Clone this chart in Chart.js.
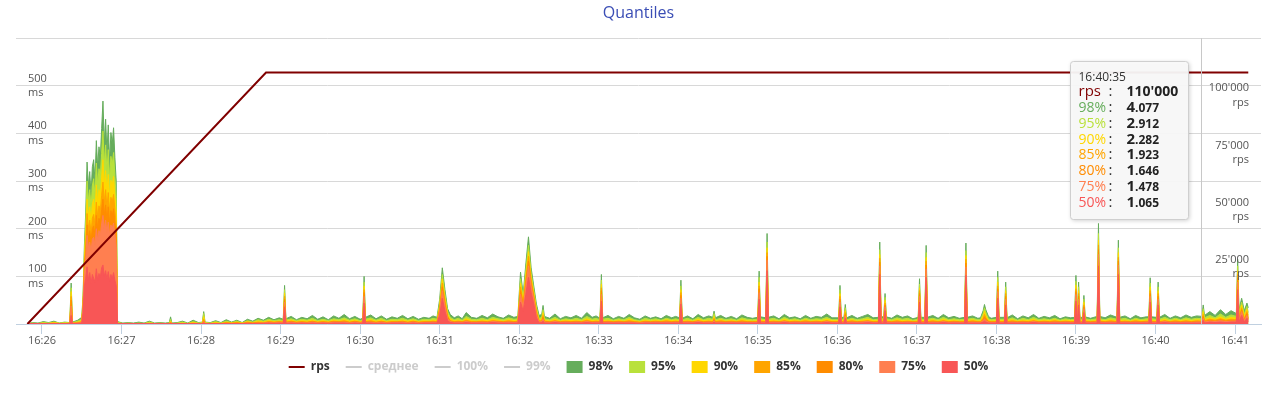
<!DOCTYPE html>
<html>
<head>
<meta charset="utf-8">
<title>Quantiles</title>
<script src="https://cdn.jsdelivr.net/npm/chart.js@4.4.1/dist/chart.umd.min.js"></script>
<style>
  html, body { margin: 0; padding: 0; background: #fff; }
</style>
</head>
<body>
<canvas id="quantiles" width="1277" height="399"></canvas>
<script>
// all times are seconds counted from 16:26:00

// x axis ticks
const minuteSec = [0, 60, 120, 180, 240, 300, 360, 420, 480, 540, 600, 660, 720, 780, 840, 900];
const minuteLabels = ['16:26', '16:27', '16:28', '16:29', '16:30', '16:31', '16:32', '16:33',
  '16:34', '16:35', '16:36', '16:37', '16:38', '16:39', '16:40', '16:41'];

// left axis (ms) and right axis (rps) ticks
const msTicks = [0, 100, 200, 300, 400, 500, 600];
const msLabels = ['', '100', '200', '300', '400', '500', ''];
const rpsTicks = [0, 25000, 50000, 75000, 100000, 125000];
const rpsLabels = ['', "25'000", "50'000", "75'000", "100'000", ''];

// rps ramp
const rpsSec = [-11, 169, 910];
const rpsVal = [0, 110000, 110000];

// series
const quantNames = ['98%', '95%', '90%', '85%', '80%', '75%', '50%'];
const quantColors = ['#66ad5c', '#b9e13b', '#ffd700', '#ffa500', '#ff8c00', '#ff7f50', '#f85656'];
const offNames = ['среднее', '100%', '99%'];

// warm-up burst, one point per second
const burstSec = [31, 32, 33, 34, 35, 36, 37, 38, 39, 40, 41, 42, 43, 44, 45, 46, 47, 48, 49, 50, 51, 52, 53, 54, 55, 56];
const burst98 = [60, 165, 235, 340, 290, 320, 272, 330, 345, 300, 385, 330, 372, 350, 410, 468, 380, 430, 360, 418, 340, 402, 378, 412, 350, 300];
const burst95 = [52, 150, 210, 300, 258, 282, 244, 290, 305, 266, 338, 292, 326, 310, 358, 405, 335, 376, 318, 366, 302, 352, 334, 360, 310, 266];
const burst90 = [46, 136, 186, 262, 226, 246, 214, 252, 262, 232, 292, 254, 282, 268, 308, 345, 290, 322, 276, 314, 264, 302, 290, 310, 270, 232];
const burst85 = [42, 124, 166, 232, 200, 218, 190, 222, 230, 206, 256, 224, 248, 236, 270, 298, 255, 282, 244, 276, 234, 266, 256, 272, 240, 206];
const burst80 = [38, 114, 150, 208, 180, 196, 172, 200, 206, 186, 228, 200, 222, 212, 240, 262, 228, 250, 218, 246, 210, 238, 228, 242, 214, 184];
const burst75 = [34, 104, 135, 186, 160, 172, 152, 178, 182, 165, 200, 176, 196, 186, 210, 228, 200, 218, 192, 214, 186, 208, 200, 212, 188, 162];
const burst50 = [24, 80, 96, 120, 92, 108, 84, 104, 96, 88, 116, 92, 106, 98, 118, 124, 100, 112, 94, 110, 90, 104, 96, 108, 92, 80];

// short latency spikes (peak points)
const spikeSec = [
  22, 97, 122, 183, 243, 300, 302, 304, 306, 361,
  363, 365, 367, 369, 371, 373, 378, 422, 482, 507,
  541, 547, 602, 606, 632, 636, 662, 667, 697, 710,
  711, 712, 721, 727, 780, 782, 786, 797, 812, 836,
  842, 876, 902, 905, 909];
const spike98 = [
  86, 15, 26, 81, 100, 52, 118, 72, 32, 109,
  62, 126, 183, 118, 80, 42, 39, 104, 92, 27,
  111, 190, 81, 41, 172, 64, 95, 165, 170, 28,
  41, 30, 111, 88, 102, 88, 60, 211, 176, 97,
  88, 40, 136, 54, 44];
const spike95 = [
  76, 10, 22, 72, 88, 44, 104, 62, 26, 95,
  54, 112, 165, 106, 71, 35, 30, 92, 80, 22,
  98, 172, 72, 34, 156, 56, 84, 150, 154, 22,
  34, 24, 98, 78, 90, 78, 52, 190, 160, 86,
  78, 32, 122, 46, 37];
const spike90 = [
  68, 6, 16, 65, 80, 38, 94, 54, 21, 86,
  48, 102, 152, 98, 65, 30, 24, 84, 72, 16,
  88, 160, 64, 28, 146, 50, 76, 140, 144, 17,
  27, 18, 88, 70, 82, 70, 46, 176, 150, 78,
  70, 26, 112, 40, 31];
const spike85 = [
  58, 4, 10, 58, 72, 33, 86, 48, 17, 78,
  43, 94, 142, 92, 60, 26, 18, 76, 66, 12,
  80, 150, 58, 24, 138, 44, 70, 132, 136, 12,
  20, 13, 80, 64, 74, 64, 40, 166, 140, 70,
  64, 20, 104, 34, 26];
const spike80 = [
  50, 3, 7, 52, 66, 29, 78, 42, 14, 70,
  39, 86, 132, 86, 56, 22, 14, 70, 60, 9,
  74, 142, 52, 20, 130, 40, 64, 124, 128, 9,
  15, 10, 74, 58, 68, 58, 36, 156, 132, 64,
  58, 16, 96, 30, 22];
const spike75 = [
  38, 2, 5, 46, 58, 25, 70, 37, 11, 62,
  35, 79, 122, 80, 52, 19, 10, 62, 54, 7,
  66, 134, 46, 17, 122, 36, 58, 116, 120, 7,
  11, 7, 68, 52, 62, 52, 32, 146, 124, 58,
  52, 12, 88, 26, 18];
const spike50 = [
  18, 1, 2, 36, 44, 18, 54, 27, 7, 46,
  27, 62, 98, 66, 42, 13, 6, 48, 42, 4,
  52, 112, 36, 12, 104, 28, 46, 98, 102, 4,
  6, 4, 54, 40, 48, 40, 24, 122, 104, 46,
  40, 8, 72, 18, 12];

// background noise between the spikes
const noiseSec = [
  -11, -7, -3, 1, 5, 9, 13, 17, 21, 23,
  27, 30, 57, 61, 65, 69, 73, 77, 81, 85,
  89, 93, 96, 98, 102, 106, 110, 114, 118, 121,
  123, 127, 131, 135, 139, 143, 147, 151, 155, 159,
  163, 167, 171, 175, 179, 182, 184, 188, 192, 196,
  200, 204, 208, 212, 216, 220, 224, 228, 232, 236,
  240, 242, 244, 248, 252, 256, 260, 264, 268, 272,
  276, 280, 284, 288, 292, 295, 298, 308, 311, 314,
  317, 320, 324, 328, 332, 336, 340, 344, 348, 352,
  356, 359, 375, 377, 379, 383, 387, 391, 395, 399,
  403, 407, 411, 415, 418, 421, 423, 427, 431, 435,
  439, 443, 447, 451, 455, 459, 463, 467, 471, 475,
  478, 481, 483, 487, 491, 495, 499, 503, 506, 508,
  512, 516, 520, 524, 528, 532, 536, 540, 542, 546,
  548, 552, 556, 560, 564, 568, 572, 576, 580, 584,
  588, 592, 596, 601, 603, 605, 607, 611, 615, 619,
  623, 627, 631, 633, 635, 637, 641, 645, 649, 653,
  657, 661, 663, 666, 668, 672, 676, 680, 684, 688,
  692, 696, 698, 702, 706, 708, 714, 716, 720, 722,
  726, 728, 732, 736, 740, 744, 748, 752, 756, 760,
  764, 768, 772, 776, 779, 781, 783, 785, 787, 791,
  796, 798, 802, 806, 811, 813, 817, 821, 825, 829,
  833, 835, 837, 841, 843, 847, 851, 855, 859, 863,
  867, 871, 875, 877, 881, 885, 889, 893, 897, 901,
  903, 907, 910];
const noise98 = [
  1, 3, 2, 5, 3, 6, 2, 4, 3, 4,
  8, 14, 5, 2, 3, 2, 4, 2, 6, 2,
  3, 2, 3, 2, 3, 6, 2, 8, 3, 4,
  4, 3, 7, 3, 9, 4, 8, 3, 10, 6,
  12, 8, 14, 9, 13, 10, 11, 16, 9, 14,
  11, 18, 10, 15, 9, 17, 12, 20, 11, 16,
  10, 12, 14, 19, 11, 17, 10, 15, 12, 18,
  11, 16, 10, 14, 12, 17, 14, 20, 13, 17,
  11, 24, 14, 12, 18, 13, 21, 15, 12, 19,
  14, 16, 18, 20, 16, 12, 21, 11, 16, 13,
  18, 12, 24, 14, 17, 12, 13, 18, 11, 16,
  12, 20, 13, 10, 17, 12, 15, 11, 18, 13,
  16, 13, 12, 17, 11, 20, 13, 17, 14, 13,
  18, 12, 16, 11, 19, 14, 12, 14, 15, 13,
  14, 17, 11, 20, 13, 15, 11, 18, 12, 16,
  14, 21, 13, 13, 14, 14, 13, 18, 12, 16,
  20, 13, 14, 15, 15, 15, 12, 19, 14, 17,
  11, 14, 14, 14, 14, 18, 12, 20, 13, 16,
  12, 14, 14, 17, 12, 13, 16, 12, 14, 14,
  14, 13, 19, 11, 17, 13, 20, 12, 16, 13,
  18, 11, 15, 13, 14, 14, 14, 14, 15, 12,
  16, 16, 13, 19, 14, 14, 17, 11, 18, 13,
  15, 15, 15, 14, 14, 20, 12, 17, 13, 19,
  14, 17, 16, 18, 26, 18, 30, 20, 28, 22,
  30, 28, 34];
const noise95 = [
  1, 2, 1, 3, 2, 4, 2, 3, 2, 3,
  6, 10, 3, 1, 2, 1, 2, 1, 4, 1,
  2, 1, 2, 1, 2, 4, 1, 5, 2, 3,
  3, 2, 5, 2, 6, 3, 6, 2, 7, 4,
  9, 6, 10, 7, 9, 7, 8, 11, 7, 10,
  8, 12, 7, 10, 7, 11, 9, 13, 8, 11,
  7, 9, 10, 13, 8, 12, 7, 10, 9, 12,
  8, 11, 7, 10, 9, 12, 10, 14, 9, 12,
  8, 16, 10, 9, 12, 9, 14, 11, 9, 13,
  10, 11, 12, 14, 11, 9, 14, 8, 11, 9,
  12, 9, 16, 10, 12, 9, 10, 12, 8, 11,
  9, 14, 9, 7, 12, 9, 11, 8, 12, 9,
  11, 9, 9, 12, 8, 14, 9, 12, 10, 9,
  12, 9, 11, 8, 13, 10, 9, 10, 11, 9,
  10, 12, 8, 14, 9, 11, 8, 12, 9, 11,
  10, 14, 9, 9, 10, 10, 9, 12, 9, 11,
  14, 9, 10, 11, 11, 11, 9, 13, 10, 12,
  8, 10, 10, 10, 10, 12, 9, 14, 9, 11,
  9, 10, 10, 12, 9, 9, 11, 9, 10, 10,
  10, 9, 13, 8, 12, 9, 14, 9, 11, 9,
  12, 8, 11, 9, 10, 10, 10, 10, 11, 9,
  11, 11, 9, 13, 10, 10, 12, 8, 12, 9,
  11, 11, 11, 10, 10, 14, 9, 12, 9, 13,
  10, 12, 11, 13, 18, 13, 21, 14, 19, 16,
  21, 20, 24];
const noise90 = [
  1, 1, 1, 2, 1, 3, 1, 2, 2, 2,
  4, 7, 2, 1, 1, 1, 1, 1, 2, 1,
  1, 1, 1, 1, 1, 2, 1, 3, 1, 2,
  2, 1, 3, 1, 4, 2, 4, 2, 5, 3,
  6, 4, 7, 5, 6, 5, 6, 8, 5, 7,
  6, 8, 5, 7, 5, 8, 6, 9, 6, 8,
  5, 6, 7, 9, 6, 8, 5, 7, 6, 8,
  6, 8, 5, 7, 6, 8, 7, 10, 7, 8,
  6, 11, 7, 6, 8, 7, 10, 8, 6, 9,
  7, 8, 9, 10, 8, 6, 10, 6, 8, 7,
  8, 6, 11, 7, 8, 6, 7, 8, 6, 8,
  6, 10, 7, 5, 8, 6, 8, 6, 9, 7,
  8, 6, 6, 8, 6, 10, 7, 8, 7, 6,
  9, 6, 8, 6, 9, 7, 6, 7, 8, 7,
  7, 8, 6, 10, 7, 8, 6, 9, 6, 8,
  7, 10, 7, 7, 7, 7, 7, 9, 6, 8,
  10, 7, 7, 8, 8, 8, 6, 9, 7, 8,
  6, 7, 7, 7, 7, 9, 6, 10, 7, 8,
  6, 7, 7, 9, 6, 7, 8, 6, 7, 7,
  7, 7, 9, 6, 8, 7, 10, 6, 8, 7,
  9, 6, 8, 7, 7, 7, 7, 7, 8, 6,
  8, 8, 7, 9, 7, 7, 8, 6, 9, 7,
  8, 8, 8, 7, 7, 10, 6, 9, 7, 9,
  7, 9, 8, 9, 13, 10, 15, 10, 14, 12,
  15, 15, 18];
const noise85 = [
  1, 1, 1, 1, 1, 2, 1, 1, 1, 2,
  3, 5, 1, 1, 1, 1, 1, 1, 1, 1,
  1, 1, 1, 1, 1, 1, 1, 2, 1, 1,
  1, 1, 2, 1, 3, 2, 3, 1, 4, 2,
  4, 3, 5, 4, 5, 4, 4, 6, 4, 5,
  4, 6, 4, 5, 4, 6, 5, 7, 4, 6,
  4, 5, 5, 7, 4, 6, 4, 5, 5, 6,
  4, 6, 4, 5, 5, 6, 5, 7, 5, 6,
  5, 8, 5, 5, 6, 5, 7, 6, 5, 7,
  5, 6, 7, 7, 6, 5, 7, 5, 6, 5,
  6, 5, 8, 5, 6, 5, 5, 6, 5, 6,
  5, 7, 5, 4, 6, 5, 6, 5, 7, 5,
  6, 5, 5, 6, 5, 7, 5, 6, 5, 5,
  7, 5, 6, 5, 7, 5, 5, 5, 6, 5,
  5, 6, 5, 7, 5, 6, 5, 7, 5, 6,
  5, 7, 5, 5, 5, 5, 5, 7, 5, 6,
  7, 5, 5, 6, 6, 6, 5, 7, 5, 6,
  5, 5, 5, 5, 5, 7, 5, 7, 5, 6,
  5, 5, 5, 7, 5, 5, 6, 5, 5, 5,
  5, 5, 7, 5, 6, 5, 7, 5, 6, 5,
  7, 5, 6, 5, 5, 5, 5, 5, 6, 5,
  6, 6, 5, 7, 5, 5, 6, 5, 7, 5,
  6, 6, 6, 5, 5, 7, 5, 7, 5, 7,
  5, 7, 6, 7, 10, 8, 11, 8, 10, 9,
  11, 11, 13];
const noise80 = [
  1, 1, 1, 1, 1, 1, 1, 1, 1, 1,
  2, 4, 1, 1, 1, 1, 1, 1, 1, 1,
  1, 1, 1, 1, 1, 1, 1, 1, 1, 1,
  1, 1, 1, 1, 2, 1, 2, 1, 3, 2,
  3, 2, 4, 3, 4, 3, 3, 5, 3, 4,
  3, 5, 3, 4, 3, 5, 4, 5, 3, 5,
  3, 4, 4, 5, 3, 5, 3, 4, 4, 5,
  3, 5, 3, 4, 4, 5, 4, 6, 4, 5,
  4, 6, 4, 4, 5, 4, 6, 5, 4, 5,
  4, 5, 5, 6, 5, 4, 6, 4, 5, 4,
  5, 4, 6, 4, 5, 4, 4, 5, 4, 5,
  4, 5, 4, 3, 5, 4, 5, 4, 5, 4,
  5, 4, 4, 5, 4, 6, 4, 5, 4, 4,
  5, 4, 5, 4, 5, 4, 4, 4, 5, 4,
  4, 5, 4, 6, 4, 5, 4, 5, 4, 5,
  4, 6, 4, 4, 4, 4, 4, 5, 4, 5,
  6, 4, 4, 5, 5, 5, 4, 5, 4, 5,
  4, 4, 4, 4, 4, 5, 4, 6, 4, 5,
  4, 4, 4, 5, 4, 4, 5, 4, 4, 4,
  4, 4, 5, 4, 5, 4, 6, 4, 5, 4,
  5, 4, 5, 4, 4, 4, 4, 4, 5, 4,
  5, 5, 4, 5, 4, 4, 5, 4, 5, 4,
  5, 5, 5, 4, 4, 6, 4, 5, 4, 5,
  4, 5, 5, 5, 8, 6, 9, 6, 8, 7,
  9, 9, 10];
const noise75 = [
  1, 1, 1, 1, 1, 1, 1, 1, 1, 1,
  2, 3, 1, 1, 1, 1, 1, 1, 1, 1,
  1, 1, 1, 1, 1, 1, 1, 1, 1, 1,
  1, 1, 1, 1, 1, 1, 1, 1, 2, 1,
  2, 2, 3, 2, 3, 2, 2, 4, 2, 3,
  2, 4, 2, 3, 2, 4, 3, 4, 2, 4,
  2, 3, 3, 4, 2, 4, 2, 3, 3, 4,
  2, 4, 2, 3, 3, 4, 3, 5, 3, 4,
  3, 5, 3, 3, 4, 3, 5, 4, 3, 4,
  3, 4, 4, 5, 4, 3, 5, 3, 4, 3,
  4, 3, 5, 3, 4, 3, 3, 4, 3, 4,
  3, 4, 3, 2, 4, 3, 4, 3, 4, 3,
  4, 3, 3, 4, 3, 5, 3, 4, 3, 3,
  4, 3, 4, 3, 4, 3, 3, 3, 4, 3,
  3, 4, 3, 5, 3, 4, 3, 4, 3, 4,
  3, 5, 3, 3, 3, 3, 3, 4, 3, 4,
  5, 3, 3, 4, 4, 4, 3, 4, 3, 4,
  3, 3, 3, 3, 3, 4, 3, 5, 3, 4,
  3, 3, 3, 4, 3, 3, 4, 3, 3, 3,
  3, 3, 4, 3, 4, 3, 5, 3, 4, 3,
  4, 3, 4, 3, 3, 3, 3, 3, 4, 3,
  4, 4, 3, 4, 3, 3, 4, 3, 4, 3,
  4, 4, 4, 3, 3, 5, 3, 4, 3, 4,
  3, 4, 4, 4, 6, 5, 7, 5, 6, 6,
  7, 7, 8];
const noise50 = [
  1, 1, 1, 1, 1, 1, 1, 1, 1, 1,
  1, 2, 1, 1, 1, 1, 1, 1, 1, 1,
  1, 1, 1, 1, 1, 1, 1, 1, 1, 1,
  1, 1, 1, 1, 1, 1, 1, 1, 1, 1,
  1, 1, 2, 1, 2, 1, 1, 2, 1, 2,
  1, 2, 1, 2, 1, 2, 2, 2, 1, 2,
  1, 2, 2, 2, 1, 2, 1, 2, 2, 2,
  1, 2, 1, 2, 2, 2, 2, 3, 2, 2,
  2, 3, 2, 2, 2, 2, 3, 2, 2, 2,
  2, 2, 2, 3, 2, 2, 3, 2, 2, 2,
  2, 2, 3, 2, 2, 2, 2, 2, 2, 2,
  2, 2, 2, 1, 2, 2, 2, 2, 2, 2,
  2, 2, 2, 2, 2, 3, 2, 2, 2, 2,
  2, 2, 2, 2, 2, 2, 2, 2, 2, 2,
  2, 2, 2, 3, 2, 2, 2, 2, 2, 2,
  2, 3, 2, 2, 2, 2, 2, 2, 2, 2,
  3, 2, 2, 2, 2, 2, 2, 2, 2, 2,
  2, 2, 2, 2, 2, 2, 2, 3, 2, 2,
  2, 2, 2, 2, 2, 2, 2, 2, 2, 2,
  2, 2, 2, 2, 2, 2, 3, 2, 2, 2,
  2, 2, 2, 2, 2, 2, 2, 2, 2, 2,
  2, 2, 2, 2, 2, 2, 2, 2, 2, 2,
  2, 2, 2, 2, 2, 3, 2, 2, 2, 2,
  2, 2, 2, 2, 4, 3, 4, 3, 4, 4,
  4, 4, 5];

// hover box shown in the picture
const tipSec = 875;
const tipTime = '16:40:35';
const tipRps = "110'000";
const tipQuant = ['4.077', '2.912', '2.282', '1.923', '1.646', '1.478', '1.065'];

const FONT = "'Open Sans', 'Liberation Sans', sans-serif";
Chart.defaults.font.family = FONT;

const noiseBy = [noise98, noise95, noise90, noise85, noise80, noise75, noise50];
const spikeBy = [spike98, spike95, spike90, spike85, spike80, spike75, spike50];
const burstBy = [burst98, burst95, burst90, burst85, burst80, burst75, burst50];

function buildPoints(q) {
  const pts = [];
  noiseSec.forEach((s, i) => pts.push({ x: s, y: noiseBy[q][i] }));
  spikeSec.forEach((s, i) => pts.push({ x: s, y: spikeBy[q][i] }));
  burstSec.forEach((s, i) => pts.push({ x: s, y: burstBy[q][i] }));
  return pts.sort((a, b) => a.x - b.x);
}

const datasets = [{
  label: 'rps',
  data: rpsSec.map((s, i) => ({ x: s, y: rpsVal[i] })),
  yAxisID: 'y1',
  borderColor: '#800000',
  borderWidth: 2,
  pointRadius: 0,
  fill: false,
  order: 0
}];
offNames.forEach((name, i) => datasets.push({
  label: name, data: [], yAxisID: 'y',
  borderColor: '#cccccc', borderWidth: 2, pointRadius: 0,
  order: 1 + i, legendOff: true
}));
quantNames.forEach((name, q) => datasets.push({
  label: name,
  data: buildPoints(q),
  yAxisID: 'y',
  borderColor: quantColors[q],
  backgroundColor: quantColors[q],
  borderWidth: 1,
  pointRadius: 0,
  fill: 'origin',
  order: 10 - q
}));

// crosshair and the fixed hover box
const tipPlugin = {
  id: 'tipBox',
  afterDraw(chart) {
    const { ctx, chartArea, scales } = chart;
    const cx = Math.round(scales.x.getPixelForValue(tipSec)) - 0.5;
    ctx.save();
    ctx.strokeStyle = '#c8c8c8';
    ctx.lineWidth = 1;
    ctx.beginPath();
    ctx.moveTo(cx, chartArea.top);
    ctx.lineTo(cx, chartArea.bottom);
    ctx.stroke();

    const w = 118, h = 158;
    const left = Math.round(cx - 14 - w) + 0.5;
    const top = Math.round(chartArea.top + 23) + 0.5;
    ctx.beginPath();
    if (ctx.roundRect) ctx.roundRect(left, top, w, h, 3); else ctx.rect(left, top, w, h);
    ctx.shadowColor = 'rgba(0,0,0,0.22)';
    ctx.shadowBlur = 4;
    ctx.shadowOffsetX = 1;
    ctx.shadowOffsetY = 1;
    ctx.fillStyle = 'rgba(249,249,249,0.95)';
    ctx.fill();
    ctx.shadowColor = 'transparent';
    ctx.strokeStyle = '#cfcfcf';
    ctx.stroke();

    ctx.textBaseline = 'alphabetic';
    ctx.textAlign = 'left';
    ctx.fillStyle = '#333333';
    ctx.font = '12px ' + FONT;
    ctx.fillText(tipTime, left + 8, top + 19);

    const rows = [{ label: 'rps', color: '#800000', value: tipRps }];
    quantNames.forEach((n, i) => rows.push({ label: n, color: quantColors[i], value: tipQuant[i] }));
    rows.forEach((r, i) => {
      const base = top + 34 + (i === 0 ? 0 : 16.5 + (i - 1) * 15.8);
      ctx.font = (i === 0 ? '15px ' : '14px ') + FONT;
      ctx.fillStyle = r.color;
      ctx.fillText(r.label, left + 8, base);
      ctx.fillStyle = '#333333';
      ctx.font = '15px ' + FONT;
      ctx.fillText(':', left + 38, base);
      ctx.fillStyle = '#222222';
      if (i === 0) {
        ctx.font = 'bold 14px ' + FONT;
        ctx.fillText(r.value, left + 56, base);
      } else {
        const dot = r.value.indexOf('.');
        const head = r.value.slice(0, dot);
        const tail = r.value.slice(dot);
        ctx.font = 'bold 15px ' + FONT;
        ctx.fillText(head, left + 56, base);
        const hw = ctx.measureText(head).width;
        ctx.font = 'bold 12px ' + FONT;
        ctx.fillText(tail, left + 56 + hw, base);
      }
    });
    ctx.restore();
  }
};

new Chart(document.getElementById('quantiles'), {
  type: 'line',
  data: { datasets },
  plugins: [tipPlugin],
  options: {
    responsive: false,
    devicePixelRatio: 1,
    animation: false,
    layout: { padding: { left: 16, right: 16, top: 0, bottom: 16 } },
    scales: {
      x: {
        type: 'linear',
        min: -19.6,
        max: 919.6,
        afterBuildTicks: (s) => { s.ticks = minuteSec.map(v => ({ value: v })); },
        afterFit: (s) => { s.height = 21; },
        grid: { drawOnChartArea: false, drawTicks: true, tickLength: 10, color: '#c0d0e0' },
        border: { display: true, color: '#c0d0e0', z: 1 },
        ticks: {
          autoSkip: false, maxRotation: 0, padding: 0,
          color: '#555555', font: { size: 11 },
          callback: (v, i) => minuteLabels[i]
        }
      },
      y: {
        position: 'left',
        min: 0,
        max: 600,
        afterBuildTicks: (s) => { s.ticks = msTicks.map(v => ({ value: v })); },
        afterFit: (s) => { s.width = 0; },
        grid: { color: '#d8d8d8', drawTicks: false },
        border: { display: false },
        ticks: {
          mirror: true, padding: 12, z: 1,
          color: '#555555', font: { size: 11, lineHeight: 1.3 },
          callback: (v, i) => msLabels[i] ? [msLabels[i], 'ms'] : ''
        }
      },
      y1: {
        position: 'right',
        min: 0,
        max: 125000,
        afterBuildTicks: (s) => { s.ticks = rpsTicks.map(v => ({ value: v })); },
        afterFit: (s) => { s.width = 0; },
        grid: { display: false, drawTicks: false },
        border: { display: false },
        ticks: {
          mirror: true, padding: -12, z: 1,
          color: '#555555', font: { size: 11, lineHeight: 1.3 },
          callback: (v, i) => rpsLabels[i] ? [rpsLabels[i], 'rps'] : ''
        }
      }
    },
    plugins: {
      title: {
        display: true,
        text: 'Quantiles',
        color: '#3a4db5',
        font: { size: 16, weight: 'normal' },
        padding: { top: 4, bottom: 15 }
      },
      tooltip: { enabled: false },
      legend: {
        position: 'bottom',
        onClick: null,
        labels: {
          usePointStyle: true,
          pointStyleWidth: 16,
          boxHeight: 12,
          padding: 16,
          color: '#333333',
          font: { size: 12, weight: 'bold' },
          generateLabels: (chart) => chart.data.datasets.map((ds, i) => {
            const isArea = ds.fill === 'origin';
            return {
              text: ds.label,
              datasetIndex: i,
              pointStyle: isArea ? 'rect' : 'line',
              fillStyle: isArea ? ds.backgroundColor : ds.borderColor,
              strokeStyle: ds.borderColor,
              lineWidth: isArea ? 0 : 2,
              fontColor: ds.legendOff ? '#cccccc' : '#333333',
              hidden: false
            };
          })
        }
      }
    }
  }
});
</script>
</body>
</html>
